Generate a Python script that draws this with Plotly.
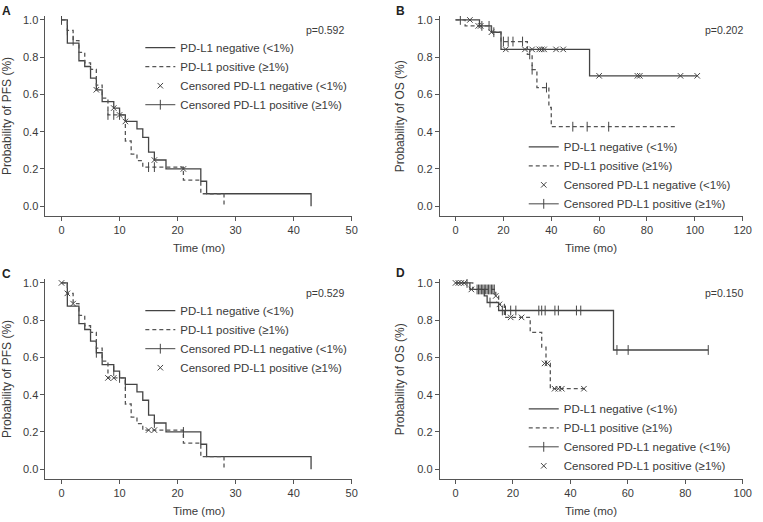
import plotly.graph_objects as go

W, H = 763, 522

# ---------------- data ----------------
# Panel A : PFS
A_neg_time = [0, 1, 3, 4, 5, 6, 7, 9, 10, 11, 13, 14, 15, 16, 18, 24, 25, 43]
A_neg_surv = [1.0, 0.875, 0.781, 0.75, 0.688, 0.625, 0.561, 0.527, 0.49, 0.455, 0.415, 0.37, 0.29, 0.248, 0.2, 0.134, 0.067, 0.0]
A_pos_time = [0, 1, 2, 3, 4, 5, 6, 7, 8, 11, 12, 13, 14, 21, 24, 28]
A_pos_surv = [1.0, 0.944, 0.889, 0.826, 0.77, 0.735, 0.65, 0.58, 0.49, 0.35, 0.28, 0.245, 0.21, 0.14, 0.067, 0.0]
A_cens_neg_time = [6, 9, 10, 11, 16, 21]
A_cens_neg_surv = [0.625, 0.527, 0.49, 0.455, 0.248, 0.2]
A_cens_pos_time = [0, 1, 2, 8, 9, 10, 15, 16]
A_cens_pos_surv = [1.0, 0.944, 0.889, 0.49, 0.49, 0.49, 0.21, 0.21]

# Panel B : OS
B_neg_time = [0, 10, 15, 19, 56, 101]
B_neg_surv = [1.0, 0.968, 0.934, 0.842, 0.70, 0.70]
B_pos_time = [0, 4, 15, 19, 30, 32, 34, 39, 40, 92]
B_pos_surv = [1.0, 0.968, 0.934, 0.884, 0.815, 0.733, 0.637, 0.53, 0.427, 0.427]
B_cens_neg_time = [6, 9.5, 10.5, 15, 21, 29, 32, 35, 36, 37, 42, 45, 60, 76, 77, 94, 101]
B_cens_neg_surv = [1.0, 0.968, 0.968, 0.934, 0.842, 0.842, 0.842, 0.842, 0.842, 0.842, 0.842, 0.842, 0.70, 0.70, 0.70, 0.70, 0.70]
B_cens_pos_time = [2, 11, 14, 16, 20, 22, 24, 28, 31, 32, 38, 49, 55, 64]
B_cens_pos_surv = [1.0, 0.968, 0.968, 0.934, 0.884, 0.884, 0.884, 0.884, 0.815, 0.733, 0.637, 0.427, 0.427, 0.427]

# Panel C : PFS
C_neg_time = [0, 1, 3, 4, 5, 6, 7, 9, 10, 11, 13, 14, 15, 16, 18, 24, 25, 43]
C_neg_surv = [1.0, 0.875, 0.781, 0.75, 0.688, 0.625, 0.561, 0.527, 0.49, 0.455, 0.415, 0.37, 0.29, 0.248, 0.2, 0.134, 0.067, 0.0]
C_pos_time = [0, 1, 2, 3, 4, 5, 6, 7, 8, 11, 12, 13, 14, 21, 24, 28]
C_pos_surv = [1.0, 0.944, 0.889, 0.826, 0.77, 0.735, 0.65, 0.58, 0.49, 0.35, 0.28, 0.245, 0.21, 0.14, 0.067, 0.0]
C_cens_neg_time = [6, 9, 10, 11, 16, 21]
C_cens_neg_surv = [0.625, 0.527, 0.49, 0.455, 0.248, 0.2]
C_cens_pos_time = [0, 1, 2, 8, 9, 15, 16]
C_cens_pos_surv = [1.0, 0.944, 0.889, 0.49, 0.49, 0.21, 0.21]

# Panel D : OS
D_neg_time = [0, 5, 10, 11, 15, 55, 88]
D_neg_surv = [1.0, 0.965, 0.93, 0.895, 0.852, 0.64, 0.64]
D_pos_time = [0, 6, 14, 15, 17, 26, 30, 31.5, 33, 45]
D_pos_surv = [1.0, 0.965, 0.93, 0.885, 0.815, 0.735, 0.655, 0.568, 0.432, 0.432]
D_cens_neg_time = [4, 7.5, 8, 8.5, 9, 9.5, 10, 10.5, 11, 11.5, 12, 12.5, 13, 13.5, 12,
                   16.3, 17.4, 19.2, 21, 29, 30, 31.2, 34.6, 35.8, 42.1, 43.6, 56.2, 60.1, 88]
D_cens_neg_surv = [1.0] + [0.965] * 13 + [0.895] + [0.852] * 11 + [0.64] * 3
D_cens_pos_time = [0, 1, 2, 3, 5.5, 14, 15.3, 19.2, 23, 31, 32, 34.5, 35.8, 37, 44.7]
D_cens_pos_surv = [1.0, 1.0, 1.0, 1.0, 0.965, 0.93, 0.885, 0.815, 0.815, 0.568, 0.568, 0.432, 0.432, 0.432, 0.432]

NAME_NEG = "PD-L1 negative (<1%)"
NAME_POS = "PD-L1 positive (≥1%)"
NAME_CNEG = "Censored PD-L1 negative (<1%)"
NAME_CPOS = "Censored PD-L1 positive (≥1%)"

# ---------------- styling ----------------
FONT = "Liberation Sans, Arial, Helvetica, sans-serif"
TXT = "#3a3a3a"
LINE = "#444444"
DASHC = "#555555"


def fx(p):
    return p / W


def fy(p):
    return 1 - p / H


panels = [
    dict(lab="A", n="", leg="legend", xdom=(46, 356), ydom=(14, 215), xr=(-2.77, 50.02), dt=10,
         ytitle="Probability of PFS (%)", p="p=0.592", ppos=(329, 28), legpos=(142, 74.5), labpos=(7, 9),
         xtpos=247, ytx=7,
         neg=(A_neg_time, A_neg_surv), pos=(A_pos_time, A_pos_surv),
         cneg=(A_cens_neg_time, A_cens_neg_surv), cpos=(A_cens_pos_time, A_cens_pos_surv), negx=True),
    dict(lab="B", n="2", leg="legend2", xdom=(445, 751.7), ydom=(14, 215), xr=(-6.6, 120.05), dt=20,
         ytitle="Probability of OS (%)", p="p=0.202", ppos=(733, 28), legpos=(530, 174), labpos=(405, 9),
         xtpos=247, ytx=405,
         neg=(B_neg_time, B_neg_surv), pos=(B_pos_time, B_pos_surv),
         cneg=(B_cens_neg_time, B_cens_neg_surv), cpos=(B_cens_pos_time, B_cens_pos_surv), negx=True),
    dict(lab="C", n="3", leg="legend3", xdom=(46, 356), ydom=(278, 479), xr=(-2.77, 50.02), dt=10,
         ytitle="Probability of PFS (%)", p="p=0.529", ppos=(329, 292), legpos=(142, 338.5), labpos=(7, 273),
         xtpos=511, ytx=7,
         neg=(C_neg_time, C_neg_surv), pos=(C_pos_time, C_pos_surv),
         cneg=(C_cens_neg_time, C_cens_neg_surv), cpos=(C_cens_pos_time, C_cens_pos_surv), negx=False),
    dict(lab="D", n="4", leg="legend4", xdom=(445, 751.7), ydom=(278, 479), xr=(-5.5, 100.04), dt=20,
         ytitle="Probability of OS (%)", p="p=0.150", ppos=(733, 292), legpos=(530, 437), labpos=(405, 272),
         xtpos=511, ytx=405,
         neg=(D_neg_time, D_neg_surv), pos=(D_pos_time, D_pos_surv),
         cneg=(D_cens_neg_time, D_cens_neg_surv), cpos=(D_cens_pos_time, D_cens_pos_surv), negx=False),
]

fig = go.Figure()
annotations = []
layout = {}

xmark = dict(symbol="x-thin-open", size=5.5, color=LINE, line=dict(color=LINE, width=1))
tmark = dict(symbol="line-ns-open", size=7, color=LINE, line=dict(color=LINE, width=1))

for P in panels:
    n = P["n"]
    xa, ya = "x" + n, "y" + n
    common = dict(xaxis=xa, yaxis=ya, legend=P["leg"])
    fig.add_trace(go.Scatter(x=P["neg"][0], y=P["neg"][1], mode="lines", name=NAME_NEG,
                             line=dict(shape="hv", color=LINE, width=1.3), **common))
    fig.add_trace(go.Scatter(x=P["pos"][0], y=P["pos"][1], mode="lines", name=NAME_POS,
                             line=dict(shape="hv", color=DASHC, width=1.3, dash="4px,3px"), **common))
    # censored marks: x-type and tick-type depending on panel
    if P["negx"]:
        fig.add_trace(go.Scatter(x=P["cneg"][0], y=P["cneg"][1], mode="markers", name=NAME_CNEG,
                                 marker=xmark, **common))
        fig.add_trace(go.Scatter(x=P["cpos"][0], y=P["cpos"][1], mode="markers", name=NAME_CPOS,
                                 marker=tmark, showlegend=False, **common))
        fig.add_trace(go.Scatter(x=[None], y=[None], mode="lines+markers", name=NAME_CPOS,
                                 marker=tmark, line=dict(color=LINE, width=1), **common))
    else:
        fig.add_trace(go.Scatter(x=P["cneg"][0], y=P["cneg"][1], mode="markers", name=NAME_CNEG,
                                 marker=tmark, showlegend=False, **common))
        fig.add_trace(go.Scatter(x=[None], y=[None], mode="lines+markers", name=NAME_CNEG,
                                 marker=tmark, line=dict(color=LINE, width=1), **common))
        fig.add_trace(go.Scatter(x=P["cpos"][0], y=P["cpos"][1], mode="markers", name=NAME_CPOS,
                                 marker=xmark, **common))

    axcommon = dict(showline=True, linecolor="#555555", linewidth=1, ticks="outside", ticklen=4,
                    tickcolor="#555555", tickwidth=1, showgrid=False, zeroline=False,
                    tickfont=dict(family=FONT, size=11, color=TXT), fixedrange=True)
    layout["xaxis" + n] = dict(domain=[fx(P["xdom"][0]), fx(P["xdom"][1])], range=list(P["xr"]),
                               anchor=ya, tick0=0, dtick=P["dt"], **axcommon)
    layout["yaxis" + n] = dict(domain=[fy(P["ydom"][1]), fy(P["ydom"][0])], range=[-0.0535, 1.0214],
                               anchor=xa, tick0=0, dtick=0.2, tickformat=".1f", **axcommon)
    layout[P["leg"]] = dict(x=fx(P["legpos"][0]), y=fy(P["legpos"][1]), xanchor="left", yanchor="middle",
                            xref="paper", yref="paper", bgcolor="rgba(0,0,0,0)", borderwidth=0,
                            font=dict(family=FONT, size=11.5, color=TXT), traceorder="normal")

    annotations.append(dict(text="<b>%s</b>" % P["lab"], x=fx(P["labpos"][0]), y=fy(P["labpos"][1]),
                            xref="paper", yref="paper", showarrow=False, xanchor="center", yanchor="middle",
                            font=dict(family=FONT, size=12, color="#222222")))
    annotations.append(dict(text=P["p"], x=fx(P["ppos"][0]), y=fy(P["ppos"][1]), xref="paper", yref="paper",
                            showarrow=False, xanchor="center", yanchor="middle",
                            font=dict(family=FONT, size=10.5, color=TXT)))
    annotations.append(dict(text="Time (mo)", x=fx((P["xdom"][0] + P["xdom"][1]) / 2), y=fy(P["xtpos"]),
                            xref="paper", yref="paper", showarrow=False, xanchor="center", yanchor="middle",
                            font=dict(family=FONT, size=11.5, color=TXT)))
    annotations.append(dict(text=P["ytitle"], x=fx(P["ytx"]), y=fy((P["ydom"][0] + P["ydom"][1]) / 2),
                            xref="paper", yref="paper", showarrow=False, xanchor="center", yanchor="middle",
                            textangle=-90, font=dict(family=FONT, size=12, color=TXT)))

fig.update_layout(width=W, height=H, margin=dict(l=0, r=0, t=0, b=0), paper_bgcolor="white",
                  plot_bgcolor="white", annotations=annotations, **layout)

fig.write_html("out.html", config={"displayModeBar": False})
